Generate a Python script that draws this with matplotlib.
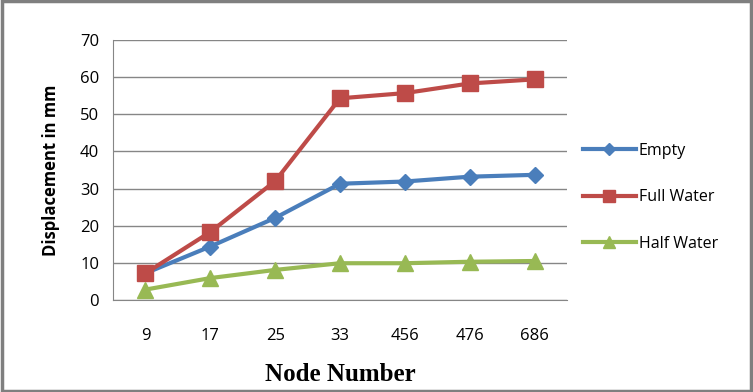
import matplotlib
matplotlib.use('Agg')
import matplotlib.pyplot as plt
from matplotlib.patches import Rectangle

nodes = ['9', '17', '25', '33', '456', '476', '686']
empty = [7.2, 14.4, 22.1, 31.3, 31.9, 33.2, 33.7]
full_water = [7.2, 18.3, 32.0, 54.3, 55.7, 58.3, 59.4]
half_water = [2.8, 5.9, 8.1, 9.9, 9.9, 10.3, 10.5]

fig = plt.figure(figsize=(7.53, 3.92), dpi=100)
ax = fig.add_axes([113 / 753, 1 - 300 / 392, 454 / 753, 260 / 392])

x = range(len(nodes))
ax.plot(x, empty, color='#4A7EBB', lw=3, marker='D', ms=8, label='Empty')
ax.plot(x, full_water, color='#BE4B48', lw=3, marker='s', ms=11, label='Full Water')
ax.plot(x, half_water, color='#98B954', lw=3, marker='^', ms=11, label='Half Water')

# Ajustes de ejes
ax.set_xlim(-0.5, 6.5)
ax.set_ylim(0, 70)
ax.set_yticks(range(0, 71, 10))
ax.set_xticks(list(x))
ax.set_xticklabels(nodes)
ax.grid(axis='y', color='#868686', lw=1)
ax.set_axisbelow(True)
ax.tick_params(length=0, labelsize=12, pad=10)
ax.tick_params(axis='x', pad=20)
for lbl in ax.get_xticklabels() + ax.get_yticklabels():
    lbl.set_fontfamily('Open Sans')
for s in ['top', 'right']:
    ax.spines[s].set_visible(False)
for s in ['left', 'bottom']:
    ax.spines[s].set_color('#868686')

ax.set_xlabel('Node Number', fontfamily='Liberation Serif', fontweight='bold',
              fontsize=18, labelpad=14)
ax.set_ylabel('Displacement in mm', fontfamily='Open Sans', fontweight='bold',
              fontsize=12, labelpad=14)

ax.legend(loc='center left', bbox_to_anchor=(1.0, 0.395), frameon=False,
          prop={'family': 'Open Sans', 'size': 11.5}, handlelength=3.3,
          handletextpad=0.2, labelspacing=1.9, borderaxespad=0.6,
          markerscale=0.75)

# Marco de la figura
fig.patches.append(Rectangle((0.002, 0.003), 0.995, 0.994, transform=fig.transFigure,
                             fill=False, edgecolor='#7F7F7F', lw=2.5))

fig.savefig('out.png', dpi=100)
